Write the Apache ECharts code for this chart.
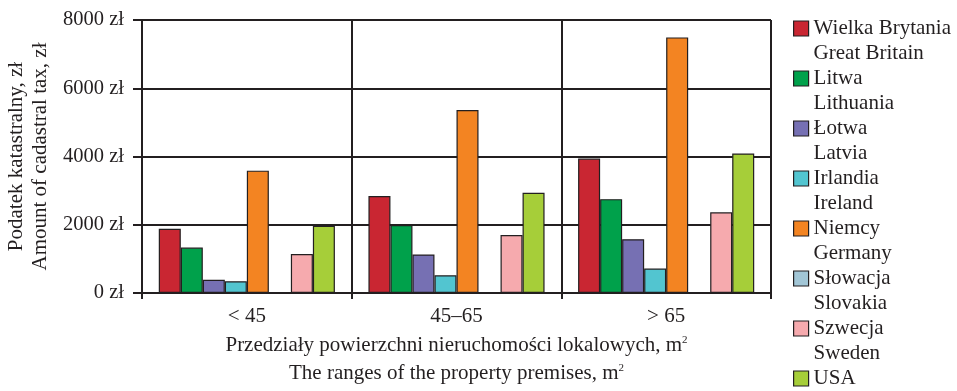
<!DOCTYPE html>
<html><head><meta charset="utf-8">
<script src="https://cdn.jsdelivr.net/npm/echarts@6/dist/echarts.min.js"></script>
<style>html,body{margin:0;padding:0;background:#fff}#c{width:957px;height:391px}</style>
</head><body><div id="c"></div>
<script>
const categories = ['< 45', '45–65', '> 65'];
const namesPl = ['Wielka Brytania', 'Litwa', 'Łotwa', 'Irlandia', 'Niemcy', 'Słowacja', 'Szwecja', 'USA'];
const namesEn = ['Great Britain', 'Lithuania', 'Latvia', 'Ireland', 'Germany', 'Slovakia', 'Sweden', ''];
const colors = ['#c92632', '#00a14b', '#7670b3', '#52c5d0', '#f38422', '#a2c6d6', '#f6aaae', '#a6ce39'];
const greatBritain = [1880, 2840, 3940];
const lithuania = [1330, 1990, 2750];
const latvia = [390, 1130, 1575];
const ireland = [345, 520, 715];
const germany = [3585, 5360, 7490];
const slovakia = [null, null, null];
const sweden = [1140, 1700, 2365];
const usa = [1970, 2935, 4090];
const yMin = 0, yMax = 8000, yStep = 2000;

const allValues = [greatBritain, lithuania, latvia, ireland, germany, slovakia, sweden, usa];
const FONT = 'Liberation Serif';
const INK = '#231f20';

const seriesNames = namesPl.map((p, i) => p + '\n' + (namesEn[i] || '\u00a0'));

const chart = echarts.init(document.getElementById('c'));
chart.setOption({
  animation: false,
  textStyle: { fontFamily: FONT, color: INK },
  grid: { left: 142, right: 186, top: 20, bottom: 98, outerBoundsMode: 'none' },
  legend: {
    orient: 'vertical',
    left: 793,
    top: 16,
    height: 600,
    padding: 0,
    itemGap: 0,
    itemWidth: 15,
    itemHeight: 40,
    icon: 'path://M0,0L15,0L15,15L0,15Z M0,40',
    itemStyle: { borderColor: INK, borderWidth: 1.2 },
    textStyle: { fontFamily: FONT, fontSize: 21, lineHeight: 25, color: INK },
    data: seriesNames
  },
  xAxis: {
    type: 'category',
    data: categories,
    axisLine: { lineStyle: { color: INK, width: 2 } },
    axisTick: { show: true, length: 6, lineStyle: { color: INK, width: 2 } },
    splitLine: { show: true, lineStyle: { color: INK, width: 2 } },
    axisLabel: { fontFamily: FONT, fontSize: 21, color: INK, margin: 13 },
    name: 'Przedziały powierzchni nieruchomości lokalowych, m{sup|2}\nThe ranges of the property premises, m{sup|2}',
    nameLocation: 'middle',
    nameGap: 37,
    nameTextStyle: {
      fontFamily: FONT, fontSize: 21, lineHeight: 28, color: INK,
      rich: { sup: { fontFamily: FONT, fontSize: 11, lineHeight: 28, color: INK, verticalAlign: 'top', padding: [3, 0, 0, 0] } }
    }
  },
  yAxis: {
    type: 'value',
    min: yMin, max: yMax, interval: yStep,
    axisLine: { show: true, lineStyle: { color: INK, width: 2 } },
    axisTick: { show: true, length: 9, lineStyle: { color: INK, width: 2 } },
    splitLine: { show: true, lineStyle: { color: INK, width: 2 } },
    axisLabel: { fontFamily: FONT, fontSize: 20.5, color: INK, margin: 18, formatter: v => v + ' zł' },
    name: 'Podatek katastralny, zł\nAmount of cadastral tax, zł',
    nameLocation: 'middle',
    nameRotate: 90,
    nameGap: 88,
    nameTextStyle: { fontFamily: FONT, fontSize: 21, lineHeight: 24, color: INK }
  },
  series: seriesNames.map((n, i) => ({
    name: n,
    type: 'bar',
    data: allValues[i],
    barGap: '0%',
    barCategoryGap: '16%',
    itemStyle: { color: colors[i], borderColor: INK, borderWidth: 1.2 }
  }))
});
</script></body></html>
